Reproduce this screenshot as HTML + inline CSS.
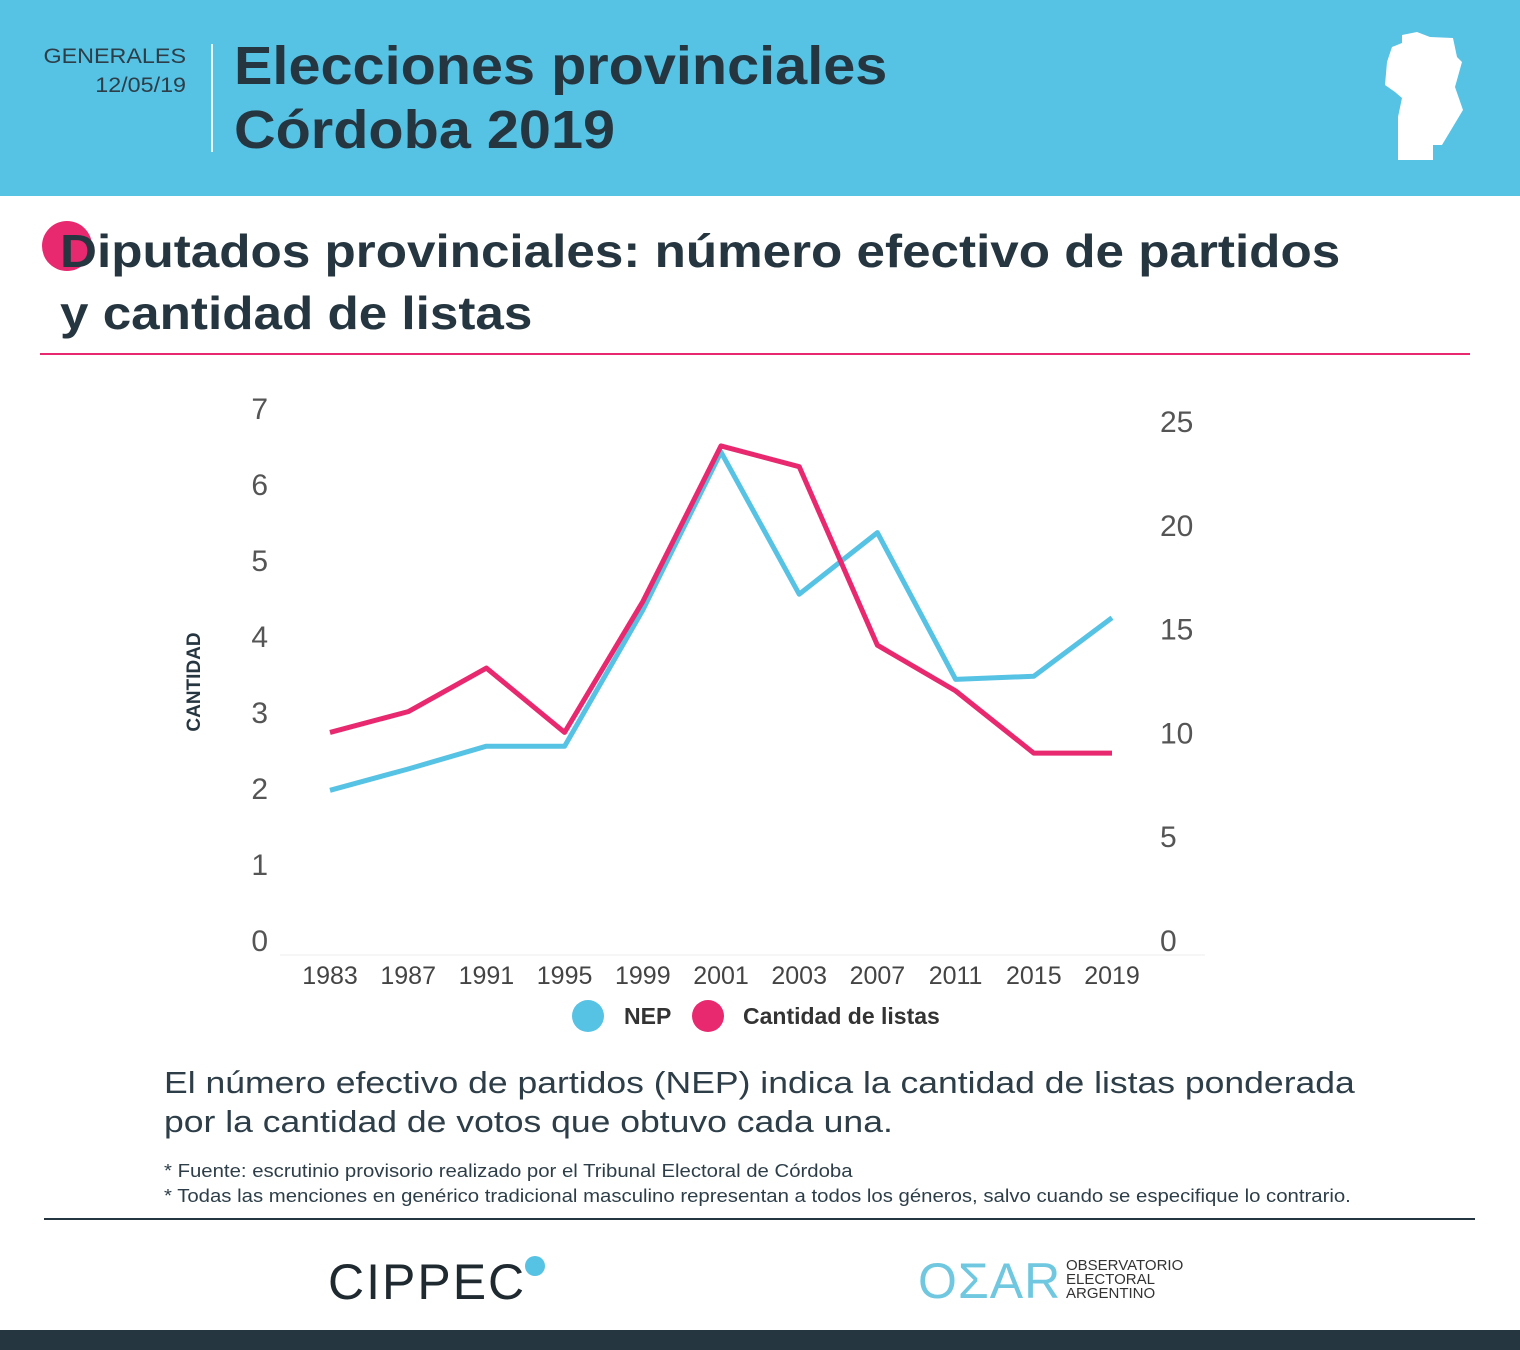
<!DOCTYPE html>
<html><head><meta charset="utf-8">
<style>
body{margin:0;width:1520px;height:1350px;position:relative;background:#fff;font-family:"Liberation Sans",sans-serif;overflow:hidden;color:#263640}
.abs{position:absolute}
</style></head><body>
<div class="abs" style="left:0;top:0;width:1520px;height:196px;background:#56c2e4"></div>
<div class="abs" style="left:20px;top:42px;width:166px;text-align:right;font-size:21px;line-height:29px;color:#2d3e48;transform:scaleX(1.11);transform-origin:right top">GENERALES<br>12/05/19</div>
<div class="abs" style="left:211px;top:44px;width:2px;height:108px;background:#e8f6fb"></div>
<div class="abs" style="left:234px;top:34px;font-size:54px;line-height:64px;font-weight:bold;color:#263640;transform:scaleX(1.067);transform-origin:left top;white-space:nowrap">Elecciones provinciales<br>Córdoba 2019</div>
<svg class="abs" style="left:0;top:0" width="1520" height="196"><polygon fill="#fff" points="1402,35 1417,32 1430,37 1453,38 1457,57 1462,62 1455,87 1463,110 1442,145 1433,145 1433,160 1398,160 1398,117 1402,98 1395,92 1385,85 1387,62 1392,47 1402,43"/></svg>
<div class="abs" style="left:42px;top:221px;width:50px;height:50px;border-radius:50%;background:#e8286f"></div>
<div class="abs" style="left:60px;top:220px;font-size:46px;line-height:62px;font-weight:bold;color:#263640;transform:scaleX(1.113);transform-origin:left top;white-space:nowrap">Diputados provinciales: número efectivo de partidos<br>y cantidad de listas</div>
<div class="abs" style="left:40px;top:353px;width:1430px;height:2px;background:#e8286f"></div>
<svg id="chart" class="abs" style="left:0;top:380px" width="1520" height="660"></svg>
<div class="abs" style="left:164px;top:1063px;font-size:31px;line-height:39px;color:#2d3e48;transform:scaleX(1.146);transform-origin:left top;white-space:nowrap">El número efectivo de partidos (NEP) indica la cantidad de listas ponderada<br>por la cantidad de votos que obtuvo cada una.</div>
<div class="abs" style="left:164px;top:1159px;font-size:18px;line-height:25px;color:#2d3e48;transform:scaleX(1.13);transform-origin:left top;white-space:nowrap">* Fuente: escrutinio provisorio realizado por el Tribunal Electoral de Córdoba<br>* Todas las menciones en genérico tradicional masculino representan a todos los géneros, salvo cuando se especifique lo contrario.</div>
<div class="abs" style="left:44px;top:1218px;width:1431px;height:2px;background:#263640"></div>
<div class="abs" style="left:328px;top:1253px;font-size:50px;letter-spacing:2px;color:#1f2a30;font-weight:300">CIPPEC</div>
<div class="abs" style="left:525px;top:1256px;width:20px;height:20px;border-radius:50%;background:#56c2e4"></div>
<div class="abs" style="left:918px;top:1252px;font-size:50px;color:#6fc8df;letter-spacing:1px">OΣAR</div>
<div class="abs" style="left:1066px;top:1259px;font-size:15px;line-height:14px;color:#333">OBSERVATORIO<br>ELECTORAL<br>ARGENTINO</div>
<div class="abs" style="left:0;top:1330px;width:1520px;height:20px;background:#263640"></div>
<script>
const years=["1983","1987","1991","1995","1999","2001","2003","2007","2011","2015","2019"];
const nep=[1.97,2.25,2.55,2.55,4.34,6.42,4.55,5.36,3.43,3.47,4.24];
const listas=[10,11,13.1,10,16.3,23.8,22.8,14.2,12,9,9];
const leftTicks=[0,1,2,3,4,5,6,7];
const rightTicks=[0,5,10,15,20,25];
const svg=document.getElementById('chart');const NS='http://www.w3.org/2000/svg';
const OY=380;
function yL(v){return 940-OY-v*76;}
function yR(v){return 940-OY-v*20.76;}
function x(i){return 330+i*78.2;}
function mk(t,a,p){const e=document.createElementNS(NS,t);for(const k in a)e.setAttribute(k,a[k]);(p||svg).appendChild(e);return e;}
const base=mk('line',{x1:280,x2:1205,y1:955-OY,y2:955-OY,stroke:'#eee','stroke-width':1});


leftTicks.forEach(v=>{const t=mk('text',{x:268,y:yL(v)+11,'text-anchor':'end','font-size':30,fill:'#555'});t.textContent=v;

});
rightTicks.forEach(v=>{const t=mk('text',{x:1160,y:yR(v)+11,'font-size':30,fill:'#555'});t.textContent=v;

});
years.forEach((y,i)=>{const t=mk('text',{x:x(i),y:984-OY,'text-anchor':'middle','font-size':25,fill:'#444'});t.textContent=y;

});
const yt=mk('text',{x:0,y:0,transform:'translate(200,'+(682-OY)+') rotate(-90)','text-anchor':'middle','font-size':19,'font-weight':'bold',fill:'#263640'});yt.textContent='CANTIDAD';


const l1=mk('polyline',{points:nep.map((v,i)=>x(i)+','+yL(v)).join(' '),fill:'none',stroke:'#56c2e4','stroke-width':5,'stroke-linejoin':'round'});


const l2=mk('polyline',{points:listas.map((v,i)=>x(i)+','+yR(v)).join(' '),fill:'none',stroke:'#e8286f','stroke-width':5,'stroke-linejoin':'round'});


const c1=mk('circle',{cx:588,cy:1016-OY,r:16,fill:'#56c2e4'});


const t1=mk('text',{x:624,y:1024-OY,'font-size':23,'font-weight':'bold',fill:'#333'});t1.textContent='NEP';


const c2=mk('circle',{cx:708,cy:1016-OY,r:16,fill:'#e8286f'});


const t2=mk('text',{x:743,y:1024-OY,'font-size':23,'font-weight':'bold',fill:'#333'});t2.textContent='Cantidad de listas';


</script>
</body></html>
